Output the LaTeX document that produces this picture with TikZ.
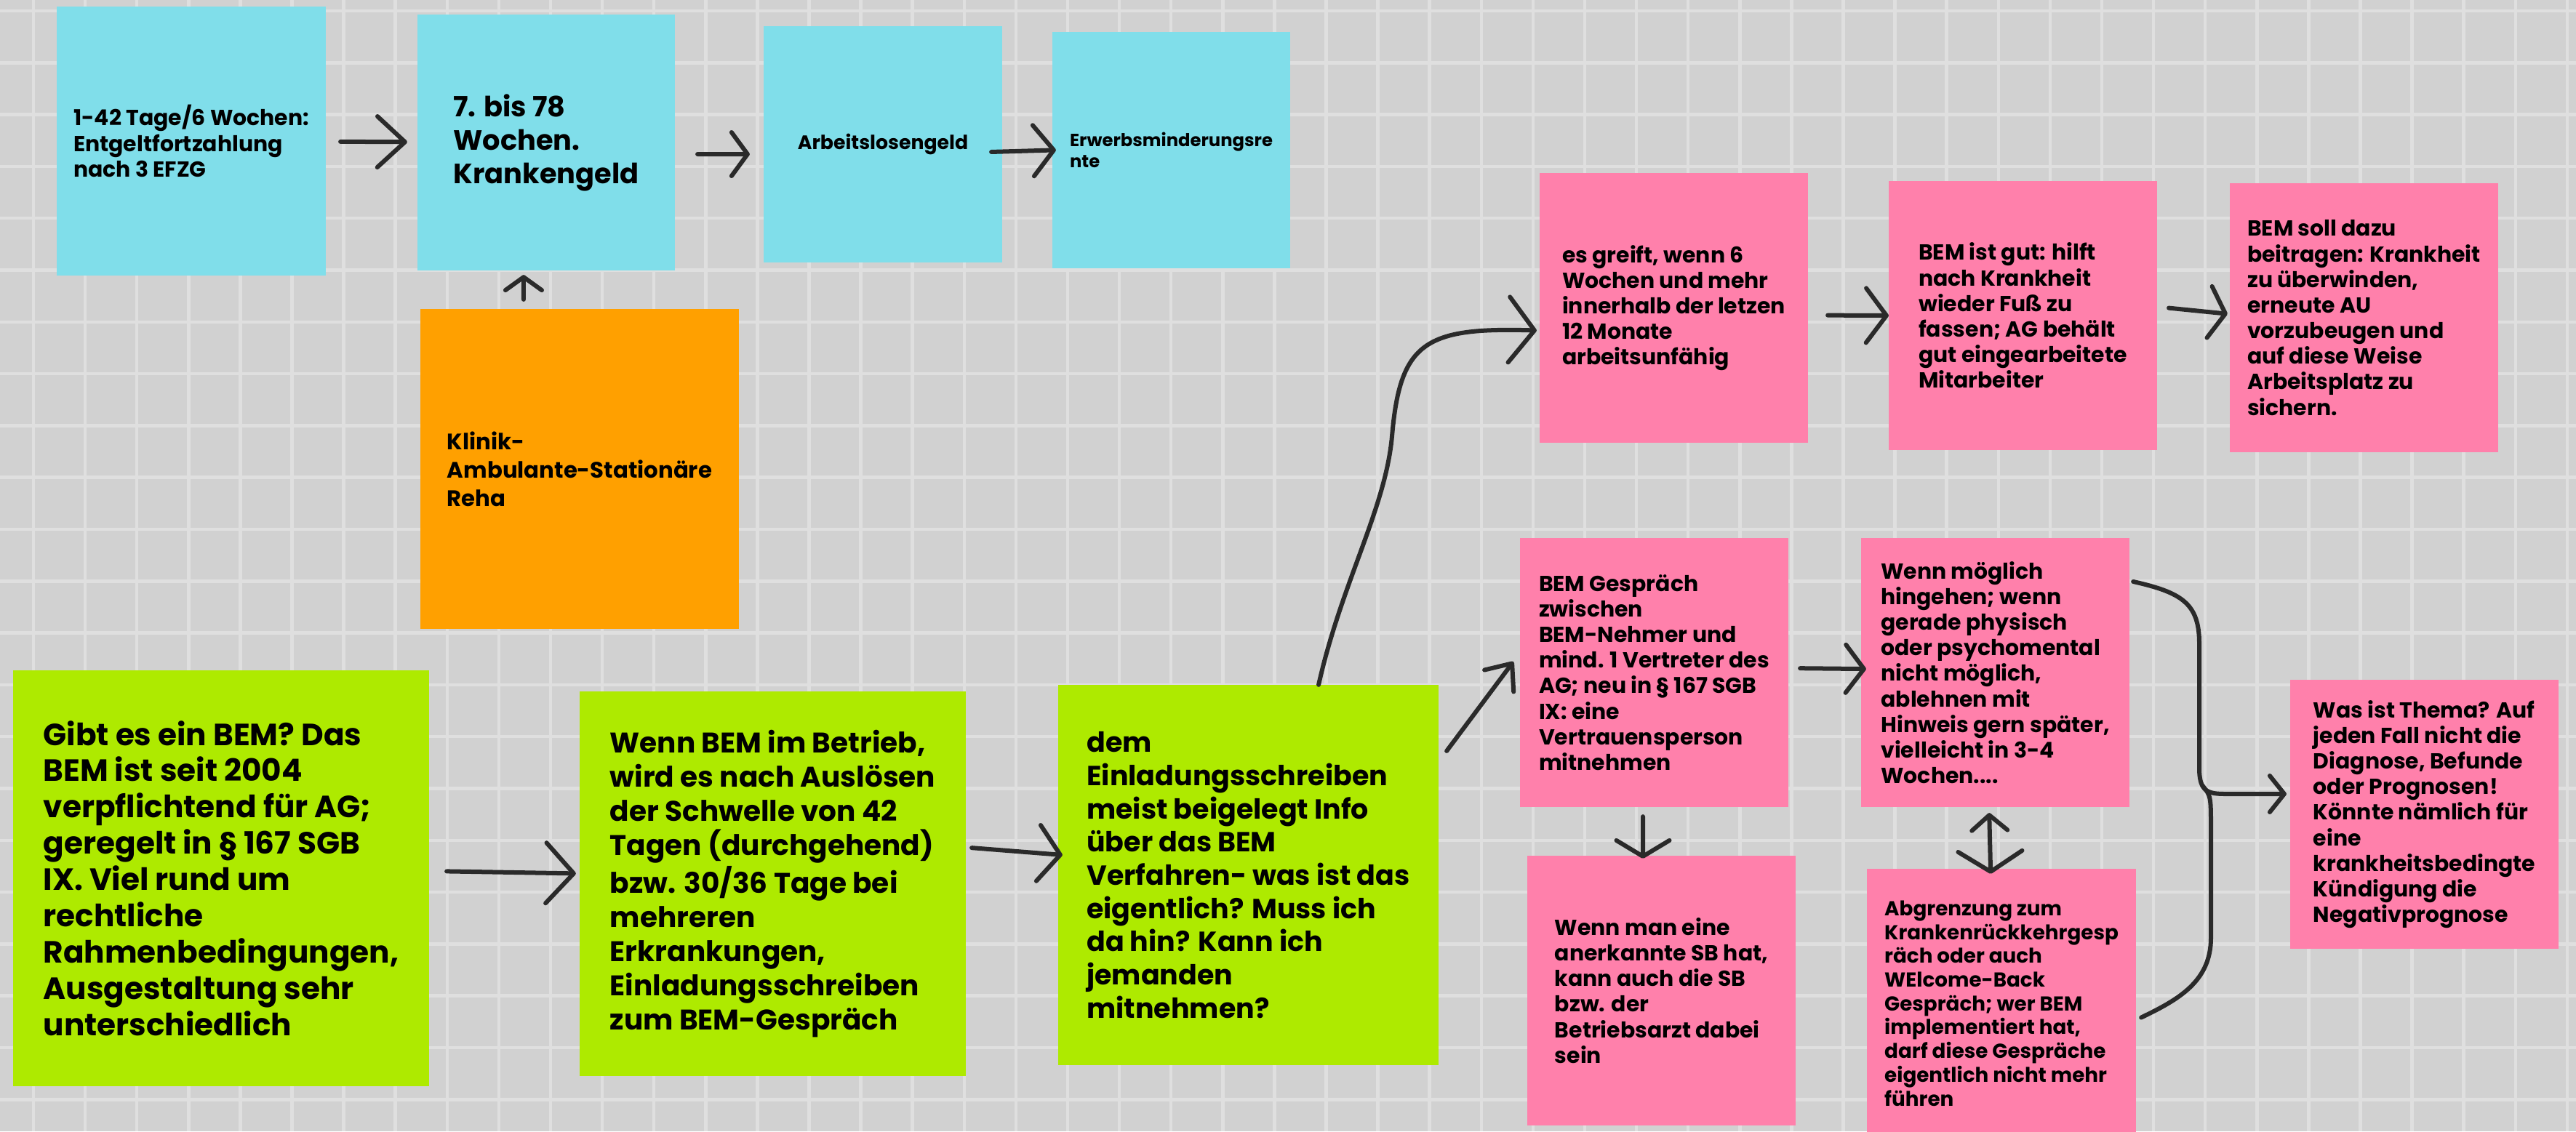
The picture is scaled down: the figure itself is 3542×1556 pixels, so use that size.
\documentclass[tikz,border=0pt]{standalone}
\usepackage{fontspec}
\setmainfont{Poppins}
\usetikzlibrary{arrows.meta}
\definecolor{bgc}{RGB}{209,209,209}
\definecolor{gridc}{RGB}{223,223,223}
\definecolor{cyanc}{RGB}{128,222,234}
\definecolor{orc}{RGB}{255,160,0}
\definecolor{grc}{RGB}{174,234,0}
\definecolor{pkc}{RGB}{255,128,171}
\definecolor{inkc}{RGB}{42,42,42}
\begin{document}
\begin{tikzpicture}[x=0.01cm,y=-0.01cm,
  card/.style={inner sep=0pt, outer sep=0pt, align=left, text=black},
  fsz/.style 2 args={font=\bfseries\fontsize{#1}{#2}\selectfont},
  sz/.style 2 args={minimum width=#1cm, minimum height=#2cm},
  cy/.style={card, fill=cyanc},
  orb/.style={card, fill=orc},
  gr/.style={card, fill=grc},
  pk/.style={card, fill=pkc},
  pkt/.style={fsz={8.5}{10}},
  arr/.style={draw=inkc, line width=0.06cm, line cap=round, line join=round},
  barb/.style 2 args={-{Straight Barb[length=#1cm,width=#2cm,round]}}
]
\useasboundingbox (0,0) rectangle (3542,1556);
\fill[bgc] (0,0) rectangle (3542,1556);
\foreach \k in {0,...,49} \draw[gridc, line width=0.045cm] (46+71.1*\k,0) -- (46+71.1*\k,1556);
\foreach \k in {0,...,21} \draw[gridc, line width=0.045cm] (0,15+71.3*\k) -- (3542,15+71.3*\k);

% top row
\node[cy, sz={3.70}{3.70}, fsz={8.5}{10.2}] (c1) at (263,194) {1-42 Tage/6 Wochen:\\Entgeltfortzahlung\\nach 3 EFZG};
\node[cy, sz={3.54}{3.52}, fsz={10.9}{13.1}] (c2) at (751,196) {7. bis 78\\Wochen.\\Krankengeld};
\node[cy, sz={3.28}{3.25}, fsz={7.6}{9}] (c3) at (1214,198.5) {Arbeitslosengeld};
\node[cy, sz={3.27}{3.25}, fsz={6.9}{8.25}] (c4) at (1610.5,206.5) {Erwerbsminderungsre\\nte};
\node[orb, sz={4.38}{4.40}, fsz={8.75}{11.1}] (reha) at (797,645) {Klinik-\\Ambulante-Stationäre\\Reha};

% pink top
\node[pk, sz={3.69}{3.71}, pkt] (p1) at (2301.5,423.5) {es greift, wenn 6\\Wochen und mehr\\innerhalb der letzen\\12 Monate\\arbeitsunfähig};
\node[pk, sz={3.69}{3.70}, pkt] (p2) at (2781.5,434) {BEM ist gut: hilft\\nach Krankheit\\wieder Fuß zu\\fassen; AG behält\\gut eingearbeitete\\Mitarbeiter};
\node[pk, sz={3.69}{3.70}, pkt] (p3) at (3250.5,437) {BEM soll dazu\\beitragen: Krankheit\\zu überwinden,\\erneute AU\\vorzubeugen und\\auf diese Weise\\Arbeitsplatz zu\\sichern.};

% green
\node[gr, sz={5.72}{5.72}, fsz={12.0}{14.2}] (g1) at (304,1208) {Gibt es ein BEM? Das\\BEM ist seit 2004\\verpflichtend für AG;\\geregelt in § 167 SGB\\IX. Viel rund um\\rechtliche\\Rahmenbedingungen,\\Ausgestaltung sehr\\unterschiedlich};
\node[gr, sz={5.31}{5.29}, fsz={11.1}{13.4}] (g2) at (1062.5,1215.5) {Wenn BEM im Betrieb,\\wird es nach Auslösen\\der Schwelle von 42\\Tagen (durchgehend)\\bzw. 30/36 Tage bei\\mehreren\\Erkrankungen,\\Einladungsschreiben\\zum BEM-Gespräch};
\node[gr, sz={5.23}{5.23}, fsz={10.8}{13}] (g3) at (1716.5,1203.5) {dem\\Einladungsschreiben\\meist beigelegt Info\\über das BEM\\Verfahren- was ist das\\eigentlich? Muss ich\\da hin? Kann ich\\jemanden\\mitnehmen?};

% pink bottom
\node[pk, sz={3.69}{3.70}, pkt] (b1) at (2274.5,925) {BEM Gespräch\\zwischen\\BEM-Nehmer und\\mind. 1 Vertreter des\\AG; neu in § 167 SGB\\IX: eine\\Vertrauensperson\\mitnehmen};
\node[pk, sz={3.69}{3.70}, pkt] (b2) at (2743.5,925) {Wenn möglich\\hingehen; wenn\\gerade physisch\\oder psychomental\\nicht möglich,\\ablehnen mit\\Hinweis gern später,\\vielleicht in 3-4\\Wochen....};
\node[pk, sz={3.69}{3.71}, pkt] (b3) at (2284.5,1362.5) {Wenn man eine\\anerkannte SB hat,\\kann auch die SB\\bzw. der\\Betriebsarzt dabei\\sein};
\node[pk, sz={3.70}{3.70}, fsz={7.9}{9.3}] (b4) at (2752,1380) {Abgrenzung zum\\Krankenrückkehrgesp\\räch oder auch\\WElcome-Back\\Gespräch; wer BEM\\implementiert hat,\\darf diese Gespräche\\eigentlich nicht mehr\\führen};
\node[pk, sz={3.69}{3.70}, pkt] (b5) at (3333.5,1120) {Was ist Thema? Auf\\jeden Fall nicht die\\Diagnose, Befunde\\oder Prognosen!\\Könnte nämlich für\\eine\\krankheitsbedingte\\Kündigung die\\Negativprognose};

% arrows top row
\draw[arr, barb={0.38}{0.70}, shorten <=0.2cm, shorten >=0.14cm] (c1) -- (c2);
\draw[arr, barb={0.22}{0.60}, shorten <=0.31cm, shorten >=0.19cm] ([yshift=-0.16cm]c2.east) -- ([yshift=-0.135cm]c3.west);
\draw[arr, barb={0.28}{0.70}, shorten <=-0.15cm, shorten >=-0.05cm] ([yshift=-0.1cm]c3.east) -- (c4.west);
\draw[arr, barb={0.18}{0.50}, shorten <=0.13cm, shorten >=0.06cm] ([xshift=-0.77cm]reha.north) -- ([xshift=-0.31cm]c2.south);

% green arrows
\draw[arr, barb={0.38}{0.83}, shorten <=0.24cm, shorten >=0.05cm] ([yshift=0.1cm]g1.east) -- ([yshift=0.14cm]g2.west);
\draw[arr, barb={0.30}{0.77}, shorten <=0.08cm, shorten >=-0.06cm] ([yshift=0.5cm]g2.east) -- ([yshift=0.28cm]g3.west);
\draw[arr, barb={0.35}{0.90}] ([xshift=0.965cm]g3.north) .. controls (1845,800) and (1905,700) .. (1914,600) .. controls (1925,470) and (1960,450) .. ([xshift=-0.04cm,yshift=-0.31cm]p1.west);
\draw[arr, barb={0.30}{0.50}] ([xshift=0.11cm,yshift=1.705cm]g3.east) -- ([xshift=-0.09cm,yshift=0.15cm]b1.west);

% pink arrows
\draw[arr, barb={0.28}{0.75}, shorten <=0.27cm] ([yshift=-0.1cm]p1.east) -- (p2.west);
\draw[arr, barb={0.22}{0.71}, shorten <=0.16cm, shorten >=0.03cm] ([yshift=0.12cm]p2.east) -- ([yshift=0.05cm]p3.west);
\draw[arr, barb={0.25}{0.66}, shorten <=0.16cm, shorten >=-0.07cm] ([yshift=0.06cm]b1.east) -- ([yshift=0.05cm]b2.west);
\draw[arr, barb={0.22}{0.73}, shorten <=0.13cm, shorten >=-0.04cm] ([xshift=-0.155cm]b1.south) -- ([xshift=-0.255cm]b3.north);
\draw[arr, {Straight Barb[length=0.21cm,width=0.49cm,round]}-{Straight Barb[length=0.28cm,width=0.88cm,round]}, shorten <=0.08cm, shorten >=-0.07cm] ([xshift=-0.085cm]b2.south) -- ([xshift=-0.15cm]b4.north);

% brace to b5
\coordinate (jn) at (3028,1080);
\draw[arr, barb={0.20}{0.50}] ([xshift=0.05cm,yshift=1.25cm]b2.east) .. controls (3000,815) and (3024,830) .. (3024,885) -- (3024,1060) .. controls (3025,1088) and (3035,1092) .. (3060,1092) -- ([xshift=-0.05cm,yshift=0.28cm]b5.west);
\draw[arr] (jn) .. controls (3040,1095) .. (3040,1140) -- (3040,1290) .. controls (3040,1350) and (2995,1375) .. ([xshift=0.07cm,yshift=-0.195cm]b4.east);
\end{tikzpicture}
\end{document}
